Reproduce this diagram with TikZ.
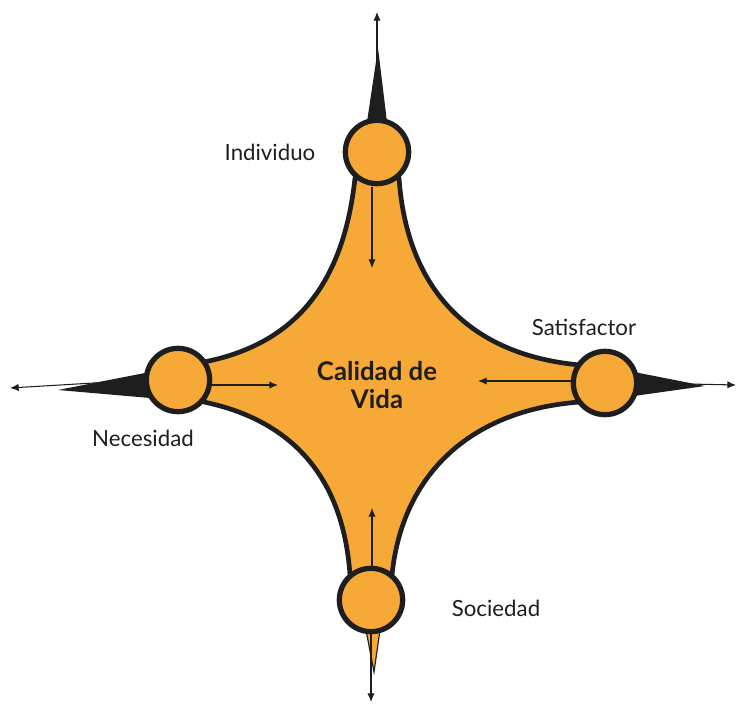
\documentclass[tikz,border=0pt]{standalone}
\usepackage{fontspec}
\setmainfont{Lato}
\usepackage{tikz}
\usetikzlibrary{arrows.meta,positioning}
\definecolor{corange}{HTML}{F7A937}
\definecolor{cink}{HTML}{1E1E1E}
\tikzset{>={Latex[length=2.6mm,width=2.2mm]}}
\tikzset{
  hub/.style={circle,fill=corange,draw=cink,line width=4.5pt,minimum size=19mm,inner sep=0pt},
  lbl/.style={font=\fontsize{19}{22}\selectfont,text=cink},
  arr/.style={->,draw=cink,line width=0.9pt},
  wedge/.style={fill=cink}
}

\begin{document}
\begin{tikzpicture}[x=0.3mm,y=-0.3mm]
\useasboundingbox (0,0) rectangle (739,705);

% ===== star body =====
\fill[corange,draw=cink,line width=4pt,line join=round]
  (355,178) .. controls (343,290) and (290,345) .. (204,362)
  -- (204,402) .. controls (290,420) and (343,475) .. (350,575)
  -- (392,575) .. controls (402,475) and (470,410) .. (580,402)
  -- (580,365) .. controls (470,355) and (407,290) .. (399,178) -- cycle;

% ===== sketchy tails =====
\fill[wedge] (367,122) -- (387,122) -- (378,48) -- cycle;
\fill[wedge] (150,372) -- (150,398) -- (58,390) -- cycle;
\fill[wedge] (634,372) -- (634,396) -- (705,386) -- cycle;
\fill[corange,draw=cink,line width=1pt] (366,630) -- (380,630) -- (374,672) -- cycle;

% ===== hubs =====
\node[hub] (ind) at (377,152) {};
\node[hub] (nec) at (178,380) {};
\node[hub] (sat) at (605,383) {};
\node[hub] (soc) at (371,600) {};

% ===== labels =====
\node[lbl] (indl) at (270,152) {Individuo};
\node[lbl] (necl) at (143,438) {Necesidad};
\node[lbl] (satl) at (584,327) {Satisfactor};
\node[lbl] (socl) at (496,608) {Sociedad};
\node[lbl,font=\fontsize{22}{24}\selectfont\bfseries,align=center] (cdv) at (377,385) {Calidad de\\Vida};

% ===== arrow ends =====
\coordinate (indout) at (377,12);
\coordinate (necout) at (10,388);
\coordinate (satout) at (736,385);
\coordinate (socout) at (371,702);
\coordinate (indin) at (372,268);
\coordinate (necin) at (278,385);
\coordinate (satin) at (478,381);
\coordinate (socin) at (372,508);

% ===== arrows =====
\draw[arr] (ind.north) -- (indout);
\draw[arr] (nec.west) -- (necout);
\draw[arr] (sat.east) -- (satout);
\draw[arr] (soc.south) -- (socout);
\draw[arr] (372,187) -- (indin);
\draw[arr] (212,385) -- (necin);
\draw[arr] (573,381) -- (satin);
\draw[arr] (372,568) -- (socin);

\end{tikzpicture}
\end{document}
